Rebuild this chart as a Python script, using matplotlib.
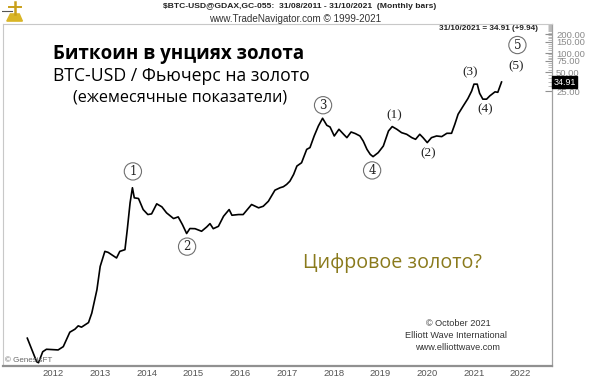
import matplotlib
matplotlib.use("Agg")
import matplotlib.pyplot as plt
import matplotlib.ticker as mticker

# ---- data (decimal year, BTC price in gold ounces) ----
t = [2011.59, 2011.79, 2011.83, 2011.92, 2012.00, 2012.25, 2012.36, 2012.50, 2012.61, 2012.68,
     2012.75, 2012.90, 2012.97, 2013.08, 2013.15, 2013.25, 2013.32, 2013.50, 2013.57, 2013.68,
     2013.73, 2013.79, 2013.84, 2013.88, 2013.97, 2014.07, 2014.17, 2014.25, 2014.36, 2014.47,
     2014.57, 2014.72, 2014.82, 2014.91, 2015.00, 2015.07, 2015.18, 2015.32, 2015.43, 2015.50,
     2015.57, 2015.68, 2015.79, 2015.91, 2015.97, 2016.11, 2016.21, 2016.39, 2016.54, 2016.64,
     2016.75, 2016.89, 2017.00, 2017.07, 2017.14, 2017.21, 2017.29, 2017.36, 2017.46, 2017.57,
     2017.64, 2017.73, 2017.82, 2017.91, 2018.00, 2018.07, 2018.16, 2018.26, 2018.36, 2018.43,
     2018.52, 2018.61, 2018.71, 2018.78, 2018.86, 2018.93, 2018.99, 2019.10, 2019.21, 2019.32,
     2019.40, 2019.50, 2019.60, 2019.71, 2019.82, 2019.90, 2019.99, 2020.06, 2020.15, 2020.24,
     2020.35, 2020.46, 2020.57, 2020.67, 2020.74, 2020.81, 2020.92, 2021.02, 2021.10, 2021.15,
     2021.22, 2021.27, 2021.34, 2021.42, 2021.49, 2021.60, 2021.66, 2021.74]
ratio = [0.00313, 0.00133, 0.00128, 0.00191, 0.00209, 0.00204, 0.00230, 0.00389, 0.00434, 0.00490,
         0.00467, 0.00552, 0.00778, 0.0182, 0.0426, 0.0736, 0.0710, 0.0579, 0.0736, 0.0783,
         0.163, 0.431, 0.745, 0.516, 0.504, 0.337, 0.281, 0.288, 0.415, 0.372,
         0.299, 0.243, 0.258, 0.195, 0.141, 0.169, 0.168, 0.153, 0.179, 0.202,
         0.168, 0.183, 0.264, 0.337, 0.274, 0.281, 0.281, 0.405, 0.359, 0.380,
         0.456, 0.682, 0.745, 0.773, 0.840, 0.946, 1.21, 1.64, 1.85, 3.01,
         3.21, 4.90, 7.05, 9.33, 7.23, 6.79, 4.90, 6.25, 5.21, 4.61,
         5.66, 5.35, 4.90, 4.07, 3.01, 2.51, 2.31, 2.67, 3.40, 5.87,
         6.90, 6.25, 5.53, 5.21, 4.61, 4.34, 5.21, 4.61, 3.85, 4.61,
         4.90, 4.79, 5.40, 5.40, 7.50, 10.8, 14.6, 19.1, 25.1, 32.3,
         32.3, 23.2, 18.7, 18.7, 21.1, 24.4, 24.0, 34.91]

years = [2012, 2013, 2014, 2015, 2016, 2017, 2018, 2019, 2020, 2021, 2022]
ytick_vals = [25, 50, 75, 100, 150, 200]
ytick_labels = ["25.00", "50.00", "75.00", "100.00", "150.00", "200.00"]
last_value = 34.91

# wave labels: (text, t, value, circled)
waves = [("1", 2013.85, 1.35, True), ("2", 2015.01, 0.0875, True), ("3", 2017.92, 15.0, True),
         ("4", 2018.97, 1.40, True), ("5", 2022.08, 134.0, True),
         ("(1)", 2019.44, 10.4, False), ("(2)", 2020.17, 2.60, False), ("(3)", 2021.07, 50.0, False),
         ("(4)", 2021.39, 13.0, False), ("(5)", 2022.05, 62.2, False)]

W, H = 590, 381
fig = plt.figure(figsize=(W / 100, H / 100), dpi=100)
fig.patch.set_facecolor("white")

def fx(px):
    return px / W

def fy(py):
    return 1 - py / H

ax = fig.add_axes([fx(3), fy(366), fx(552) - fx(3), fy(24) - fy(366)])
ax.set_yscale("log")
ax.plot(t, ratio, color="black", lw=1.2, solid_joinstyle="round")
ax.set_xlim(2011.07, 2022.82)
ax.set_ylim(0.001137, 288)

for s in ["left", "top"]:
    ax.spines[s].set_color("#c8c8c8")
    ax.spines[s].set_linewidth(0.8)
ax.spines["right"].set_color("#a0a0a0")
ax.spines["right"].set_linewidth(0.9)
ax.spines["bottom"].set_color("#909090")
ax.spines["bottom"].set_linewidth(1.6)

# x ticks (year labels)
ax.set_xticks([y + 0.146 for y in years])
ax.set_xticklabels([str(y) for y in years], fontsize=6.8, color="#555555", family="Liberation Sans")
ax.tick_params(axis="x", length=0, pad=2.5)

# y ticks on right
ax.yaxis.tick_right()
ax.yaxis.set_major_locator(mticker.FixedLocator(ytick_vals))
ax.yaxis.set_major_formatter(mticker.FixedFormatter(ytick_labels))
ax.yaxis.set_minor_locator(mticker.FixedLocator(list(range(30, 50, 5)) + list(range(55, 75, 5)) +
                                               list(range(80, 100, 5)) + list(range(110, 150, 10)) +
                                               list(range(160, 200, 10)) + list(range(210, 290, 10))))
ax.yaxis.set_minor_formatter(mticker.NullFormatter())
ax.tick_params(axis="y", which="major", direction="in", length=5, color="#909090",
               labelsize=6.8, labelcolor="#8a8a8a", pad=3)
ax.tick_params(axis="y", which="minor", direction="in", length=3, color="#b0b0b0")
for lab in ax.get_yticklabels():
    lab.set_family("Liberation Sans")

# last value tag
ax.annotate("34.91", xy=(1.0, last_value), xycoords=("axes fraction", "data"),
            xytext=(1, 0), textcoords="offset points", fontsize=6.4, color="white",
            family="Liberation Sans", va="center", ha="left",
            bbox=dict(boxstyle="square,pad=0.12", fc="black", ec="black"))

# wave labels
for txt, tx, tv, circ in waves:
    if circ:
        ax.text(tx, tv, txt, fontsize=8.5, family="DejaVu Serif", ha="center", va="center",
                color="#222222",
                bbox=dict(boxstyle="circle,pad=0.18", fc="white", ec="#707070", lw=0.8))
    else:
        ax.text(tx, tv, txt, fontsize=9.5, family="Liberation Serif", ha="center", va="center",
                color="#222222")

# header texts
fig.text(fx(300), fy(7), "$BTC-USD@GDAX,GC-055:  31/08/2011 - 31/10/2021  (Monthly bars)",
         fontsize=6.1, fontweight="bold", family="Liberation Sans", ha="center", va="center",
         color="#222222")
fig.text(fx(295), fy(19), "www.TradeNavigator.com \u00a9 1999-2021", fontsize=7.1,
         family="Liberation Sans", ha="center", va="center", color="#333333")
fig.text(fx(538), fy(29), "31/10/2021 = 34.91 (+9.94)", fontsize=5.9, fontweight="bold",
         family="Liberation Sans", ha="right", va="center", color="#222222")

# logo (simple golden sextant sketch)
logo = fig.add_axes([fx(2), fy(24), fx(24), fy(0) - fy(24)])
logo.axis("off")
logo.set_xlim(0, 1)
logo.set_ylim(0, 1)
logo.fill([0.2, 0.85, 0.72, 0.35], [0.12, 0.12, 0.42, 0.42], color="#d9b526")
logo.plot([0.55, 0.55], [0.42, 0.92], color="#c9a01a", lw=1.8)
logo.plot([0.3, 0.8], [0.72, 0.72], color="#c9a01a", lw=1.4)
logo.plot([0.0, 0.4], [0.55, 0.55], color="#555555", lw=0.8)

# titles
fig.text(fx(179), fy(54), "Биткоин в унциях золота", fontsize=13.5, fontweight="bold",
         family="Open Sans", ha="center", va="center", color="black")
fig.text(fx(181), fy(76), "BTC-USD / Фьючерс на золото", fontsize=12.7,
         family="Open Sans", ha="center", va="center", color="black")
fig.text(fx(180), fy(98), "(ежемесячные показатели)", fontsize=11.7,
         family="Open Sans", ha="center", va="center", color="black")
fig.text(fx(392), fy(263), "Цифровое золото?", fontsize=14.2,
         family="Open Sans", ha="center", va="center", color="#8a7a1c")

# credits
fig.text(fx(458), fy(323), "\u00a9 October 2021", fontsize=6.6, family="Liberation Sans",
         ha="center", va="center", color="#333333")
fig.text(fx(456), fy(335), "Elliott Wave International", fontsize=6.6, family="Liberation Sans",
         ha="center", va="center", color="#333333")
fig.text(fx(458), fy(347), "www.elliottwave.com", fontsize=6.6, family="Liberation Sans",
         ha="center", va="center", color="#333333")
fig.text(fx(5), fy(360), "\u00a9 GenesisFT", fontsize=5.8, family="Liberation Sans",
         ha="left", va="center", color="#666666")

fig.savefig("out.png", dpi=100, facecolor="white")
